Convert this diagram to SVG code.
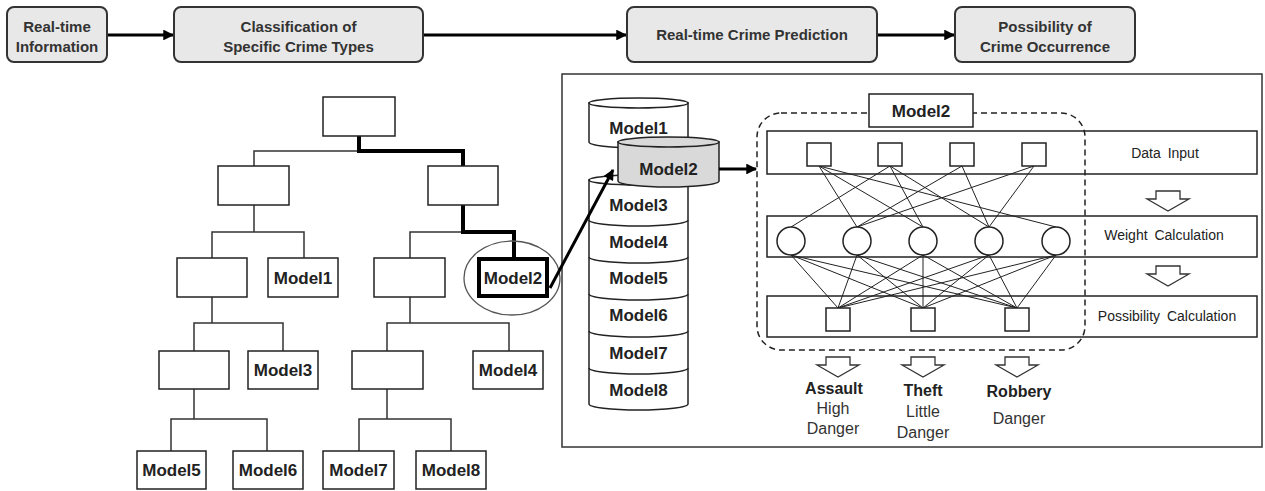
<svg xmlns="http://www.w3.org/2000/svg" width="1265" height="491" viewBox="0 0 1265 491">
<defs>
<marker id="ah" viewBox="0 0 10 10" refX="9" refY="5" markerWidth="4" markerHeight="3.6" orient="auto" markerUnits="strokeWidth">
<path d="M0,0 L10,5 L0,10 z" fill="#000"/>
</marker>
<path id="hollow" d="M-12,0 h24 v8 h9 l-21,12 l-21,-12 h9 z"/>
</defs>
<style>
.hb{fill:#e8e8e8;stroke:#333;stroke-width:2}
.ht{font-family:"Liberation Sans",Arial,sans-serif;font-weight:bold;font-size:15px;fill:#333;text-anchor:middle}
.ar{stroke:#000;stroke-width:3;fill:none;marker-end:url(#ah)}
.nb{fill:#fff;stroke:#222;stroke-width:1.5}
.nt{font-family:"Liberation Sans",Arial,sans-serif;font-weight:bold;font-size:17px;fill:#222;text-anchor:middle}
.tl{fill:none;stroke:#333;stroke-width:1.5}
.tk{fill:none;stroke:#000;stroke-width:4}
.cy{fill:#fff;stroke:#222;stroke-width:1.5}
.nn{fill:none;stroke:#222;stroke-width:1}
.bt{font-family:"Liberation Sans",Arial,sans-serif;font-size:14px;fill:#222;text-anchor:middle;word-spacing:3px}
.lb{font-family:"Liberation Sans",Arial,sans-serif;font-size:16px;fill:#333;text-anchor:middle}
.lbb{font-weight:bold;fill:#222}
.hw{fill:#fff;stroke:#333;stroke-width:1.3}
</style>
<rect width="1265" height="491" fill="#fff"/>

<!-- top pipeline -->
<g id="top-connectors">
<line class="ar" x1="107" y1="35" x2="173" y2="35"/>
<line class="ar" x1="423" y1="35" x2="626" y2="35"/>
<line class="ar" x1="877" y1="35" x2="954" y2="35"/>
</g>
<g id="realtime-info"><rect class="hb" x="7" y="7" width="100" height="55" rx="7"/><text class="ht" x="57" y="32">Real-time</text><text class="ht" x="57" y="52">Information</text></g>
<g id="classification"><rect class="hb" x="174" y="7" width="249" height="55" rx="7"/><text class="ht" x="298.5" y="32">Classification of</text><text class="ht" x="298.5" y="52">Specific Crime Types</text></g>
<g id="prediction"><rect class="hb" x="627" y="7" width="250" height="55" rx="7"/><text class="ht" x="752" y="40">Real-time Crime Prediction</text></g>
<g id="possibility"><rect class="hb" x="955" y="7" width="180" height="55" rx="7"/><text class="ht" x="1045" y="32">Possibility of</text><text class="ht" x="1045" y="52">Crime Occurrence</text></g>

<!-- tree connectors -->
<g id="tree-connectors">
<path class="tl" d="M254,166 V151 H359"/>
<path class="tl" d="M254,205 V232 M212,258 V232 H304 V258"/>
<path class="tl" d="M410,258 V232 H463"/>
<path class="tl" d="M212,297 V323 M194,351 V323 H283 V351"/>
<path class="tl" d="M410,297 V323 M387,351 V323 H509 V351"/>
<path class="tl" d="M194,389 V419 M171,451 V419 H267 V451"/>
<path class="tl" d="M387,389 V419 M359,451 V419 H451 V451"/>
<path class="tk" d="M359,136 V151 H463 V166"/>
<path class="tk" d="M463,205 V232 H514 V258"/>
</g>
<!-- tree nodes -->
<g id="t-root"><rect class="nb" x="323" y="97" width="72" height="39"/></g>
<g id="t-l2a"><rect class="nb" x="218" y="166" width="71" height="39"/></g>
<g id="t-l2b"><rect class="nb" x="428" y="166" width="70" height="39"/></g>
<g id="t-l3a"><rect class="nb" x="177" y="258" width="70" height="39"/></g>
<g id="t-model1"><rect class="nb" x="268" y="258" width="70" height="39"/><text class="nt" x="303" y="284">Model1</text></g>
<g id="t-l3c"><rect class="nb" x="374" y="258" width="71" height="39"/></g>
<g id="t-model2"><rect x="479" y="259" width="68" height="37" fill="#fff" stroke="#000" stroke-width="4"/><text class="nt" x="513" y="284">Model2</text><ellipse cx="512" cy="278" rx="48" ry="37" fill="none" stroke="#555" stroke-width="1.3"/></g>
<g id="t-l4a"><rect class="nb" x="159" y="351" width="70" height="38"/></g>
<g id="t-model3"><rect class="nb" x="248" y="351" width="70" height="38"/><text class="nt" x="283" y="376">Model3</text></g>
<g id="t-l4c"><rect class="nb" x="352" y="351" width="71" height="38"/></g>
<g id="t-model4"><rect class="nb" x="473" y="351" width="70" height="38"/><text class="nt" x="508" y="376">Model4</text></g>
<g id="t-model5"><rect class="nb" x="137" y="451" width="69" height="38"/><text class="nt" x="171.5" y="476">Model5</text></g>
<g id="t-model6"><rect class="nb" x="233" y="451" width="70" height="38"/><text class="nt" x="268" y="476">Model6</text></g>
<g id="t-model7"><rect class="nb" x="323" y="451" width="71" height="38"/><text class="nt" x="358.5" y="476">Model7</text></g>
<g id="t-model8"><rect class="nb" x="416" y="451" width="70" height="38"/><text class="nt" x="451" y="476">Model8</text></g>

<!-- big panel -->
<g id="panel"><rect x="562" y="74" width="700" height="373" fill="none" stroke="#333" stroke-width="1.5"/></g>

<!-- model stack -->
<g id="stack-lower">
<path class="cy" d="M589,180 V404 A49.5,6 0 0 0 688,404 V180 z"/>
<ellipse class="cy" cx="638.5" cy="180" rx="49.5" ry="5"/>
<path class="nn" style="stroke-width:1.5" d="M589,220 A49.5,6 0 0 0 688,220 M589,257 A49.5,6 0 0 0 688,257 M589,294 A49.5,6 0 0 0 688,294 M589,331 A49.5,6 0 0 0 688,331 M589,368 A49.5,6 0 0 0 688,368"/>
<text class="nt" x="638.5" y="211">Model3</text>
<text class="nt" x="638.5" y="248">Model4</text>
<text class="nt" x="638.5" y="284">Model5</text>
<text class="nt" x="638.5" y="321">Model6</text>
<text class="nt" x="638.5" y="359">Model7</text>
<text class="nt" x="638.5" y="396">Model8</text>
</g>
<g id="stack-model1">
<path class="cy" d="M589,103 V142 A49.5,6 0 0 0 688,142 V103 z"/>
<ellipse class="cy" cx="638.5" cy="103" rx="49.5" ry="5"/>
<text class="nt" x="638.5" y="134">Model1</text>
</g>
<g id="stack-model2">
<path class="cy" style="fill:#d9d9d9" d="M618,142 V181 A50.5,6 0 0 0 719,181 V142 z"/>
<ellipse class="cy" style="fill:#d9d9d9" cx="668.5" cy="142" rx="50.5" ry="5"/>
<text class="nt" x="668.5" y="175">Model2</text>
</g>

<!-- neural network bands -->
<g id="band-input"><rect x="767" y="131" width="490" height="43" fill="none" stroke="#222" stroke-width="1.5"/><text class="bt" x="1165" y="158">Data Input</text></g>
<g id="band-weight"><rect x="767" y="216" width="490" height="41" fill="none" stroke="#222" stroke-width="1.5"/><text class="bt" x="1164" y="240">Weight Calculation</text></g>
<g id="band-possibility"><rect x="767" y="296" width="490" height="41" fill="none" stroke="#222" stroke-width="1.5"/><text class="bt" x="1167" y="321">Possibility Calculation</text></g>

<g id="model2-frame">
<rect x="757" y="113" width="328" height="237" rx="24" fill="none" stroke="#222" stroke-width="1.5" stroke-dasharray="6,4"/>
<rect x="869" y="94" width="104" height="33" fill="#fff" stroke="#222" stroke-width="1.5"/>
<text class="nt" x="921" y="117">Model2</text>
</g>

<!-- connectors -->
<g id="connectors">
<line class="ar" x1="550" y1="288" x2="613" y2="170"/>
<line class="ar" x1="719" y1="169" x2="756" y2="169"/>
<g class="nn">
<line x1="819" y1="166" x2="857" y2="227"/>
<line x1="819" y1="166" x2="923" y2="227"/>
<line x1="819" y1="166" x2="1056" y2="227"/>
<line x1="890" y1="166" x2="791" y2="227"/>
<line x1="890" y1="166" x2="923" y2="227"/>
<line x1="890" y1="166" x2="989" y2="227"/>
<line x1="962" y1="166" x2="857" y2="227"/>
<line x1="962" y1="166" x2="989" y2="227"/>
<line x1="1034" y1="166" x2="857" y2="227"/>
<line x1="1034" y1="166" x2="989" y2="227"/>

<line x1="791" y1="255" x2="838" y2="308"/><line x1="791" y1="255" x2="923" y2="308"/><line x1="791" y1="255" x2="1017" y2="308"/>
<line x1="857" y1="255" x2="838" y2="308"/><line x1="857" y1="255" x2="923" y2="308"/><line x1="857" y1="255" x2="1017" y2="308"/>
<line x1="923" y1="255" x2="838" y2="308"/><line x1="923" y1="255" x2="923" y2="308"/><line x1="923" y1="255" x2="1017" y2="308"/>
<line x1="989" y1="255" x2="838" y2="308"/><line x1="989" y1="255" x2="923" y2="308"/><line x1="989" y1="255" x2="1017" y2="308"/>
<line x1="1056" y1="255" x2="838" y2="308"/><line x1="1056" y1="255" x2="923" y2="308"/><line x1="1056" y1="255" x2="1017" y2="308"/>
</g>
</g>

<!-- neurons -->
<g id="inputs" fill="#fff" stroke="#222" stroke-width="1.5">
<rect x="807" y="143" width="24" height="23"/>
<rect x="878" y="143" width="24" height="23"/>
<rect x="950" y="143" width="24" height="23"/>
<rect x="1022" y="143" width="24" height="23"/>
</g>
<g id="hidden" fill="#fff" stroke="#222" stroke-width="1.5">
<circle cx="791" cy="241" r="14"/>
<circle cx="857" cy="241" r="14"/>
<circle cx="923" cy="241" r="14"/>
<circle cx="989" cy="241" r="14"/>
<circle cx="1056" cy="241" r="14"/>
</g>
<g id="outputs" fill="#fff" stroke="#222" stroke-width="1.5">
<rect x="826" y="308" width="24" height="23"/>
<rect x="911" y="308" width="24" height="23"/>
<rect x="1005" y="308" width="24" height="23"/>
</g>

<!-- hollow arrows -->
<g id="hollow-arrows" class="hw">
<use href="#hollow" x="1168" y="191"/>
<use href="#hollow" x="1168" y="266"/>
<use href="#hollow" x="838" y="357"/>
<use href="#hollow" x="923" y="357"/>
<use href="#hollow" x="1017" y="357"/>
</g>

<!-- result labels -->
<g id="assault"><text class="lb lbb" x="834" y="394">Assault</text><text class="lb" x="833" y="414">High</text><text class="lb" x="833" y="434">Danger</text></g>
<g id="theft"><text class="lb lbb" x="923" y="396">Theft</text><text class="lb" x="923" y="417">Little</text><text class="lb" x="923" y="438">Danger</text></g>
<g id="robbery"><text class="lb lbb" x="1019" y="397">Robbery</text><text class="lb" x="1019" y="424">Danger</text></g>
</svg>
